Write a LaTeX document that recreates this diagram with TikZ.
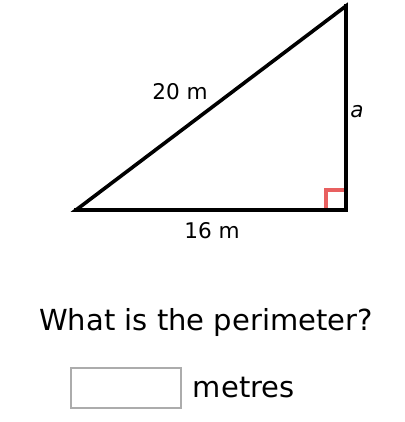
\documentclass[tikz,border=0pt]{standalone}
\usepackage{fontspec}
\setmainfont{DejaVu Sans}
\usetikzlibrary{positioning}

\definecolor{markred}{RGB}{232,96,96}
\definecolor{boxgray}{RGB}{172,172,172}

\begin{document}
\begin{tikzpicture}[
    x=1pt, y=-1pt,
    edge/.style={line width=3.6pt, line join=miter, line cap=rect},
    lbl/.style={font=\fontsize{21.6}{26}\selectfont, inner sep=0pt},
    big/.style={font=\fontsize{29}{34}\selectfont, inner sep=0pt},
    answer/.style={draw=boxgray, line width=1.5pt, minimum width=110pt, minimum height=40pt, inner sep=0pt}
]
    \useasboundingbox (0,0) rectangle (404,422);

    % triangle corners
    \coordinate (left) at (76,210);
    \coordinate (corner) at (346,210);
    \coordinate (top) at (346,6);

    \draw[edge] (left) -- (corner) -- (top) -- cycle;

    % right angle mark
    \draw[markred, line width=3.6pt] ([xshift=-20pt]corner) -- ++(0,-20) -- ++(20,0);
    \draw[edge] (left) -- (corner) -- (top);

    \node[lbl] (hyp) at (180,92) {20 m};
    \node[lbl] (base) at (212,231) {16 m};
    \node[lbl, font=\fontsize{21.6}{26}\selectfont\itshape] (side) at (357,112) {a};

    \node[big] (question) at (206,322) {What is the perimeter?};
    \node[answer] (box) at (126,388) {};
    \node[big, anchor=west, right=11pt of box] (unit) {metres};
\end{tikzpicture}
\end{document}
